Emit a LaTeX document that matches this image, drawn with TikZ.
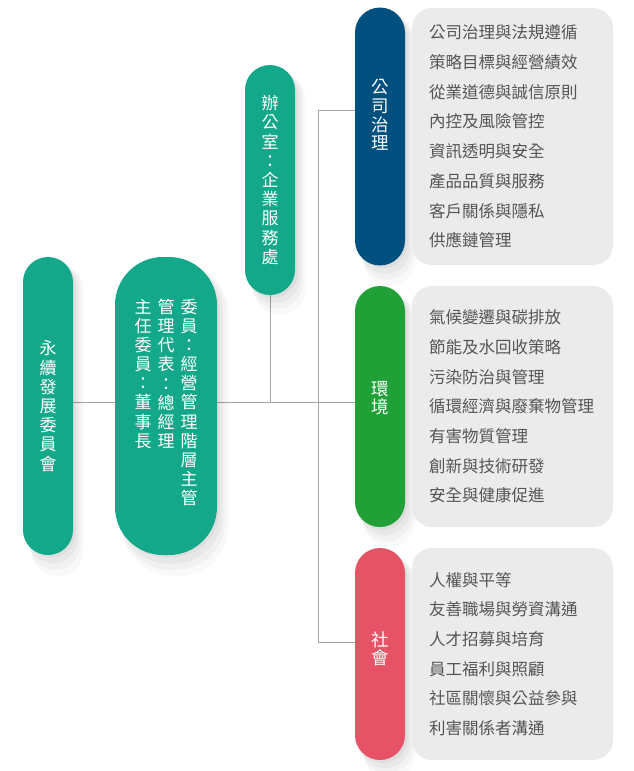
\documentclass[tikz,border=0pt]{standalone}
\usepackage{fontspec}
\newfontfamily\cjk{Noto Sans CJK TC}
\usetikzlibrary{positioning,shadows,backgrounds}
\definecolor{esgteal}{RGB}{18,168,137}
\definecolor{esgblue}{RGB}{0,80,127}
\definecolor{esggreen}{RGB}{33,160,56}
\definecolor{esgred}{RGB}{230,83,102}
\definecolor{listgray}{RGB}{235,235,235}
\definecolor{listtext}{RGB}{85,85,85}
\definecolor{linkgray}{RGB}{165,165,165}

\tikzset{
  softshade/.style={
    general shadow={fill=black,opacity=0.025,shadow xshift=9pt,shadow yshift=-13pt,shadow scale=1.05},
    general shadow={fill=black,opacity=0.03,shadow xshift=7pt,shadow yshift=-10pt,shadow scale=1.03},
    general shadow={fill=black,opacity=0.035,shadow xshift=5pt,shadow yshift=-7pt,shadow scale=1.01},
    general shadow={fill=black,opacity=0.04,shadow xshift=3pt,shadow yshift=-4pt,shadow scale=0.99}},
  pill/.style={rectangle,rounded corners=25pt,minimum width=50pt,inner sep=0pt,
    text=white,align=center,font=\cjk\fontsize{17}{19.2}\selectfont,softshade},
  pilltext/.style={inner sep=0pt,text=white,align=center,font=\cjk\fontsize{17.5}{18.6}\selectfont},
  topicbox/.style={rectangle,rounded corners=20pt,fill=listgray,text=listtext,
    text width=167pt,inner xsep=17pt,inner ysep=0pt,minimum width=201pt,align=left,
    font=\cjk\fontsize{16.5}{29.7}\selectfont},
  link/.style={draw=linkgray,line width=0.8pt}
}

\begin{document}
\begin{tikzpicture}[x=1pt,y=-1pt]
  \useasboundingbox (0,0) rectangle (633,771);

  % committee and members
  \node[pill,fill=esgteal,minimum height=298pt] (sdc) at (48,406)
    {永\\續\\發\\展\\委\\員\\會};
  \node[pill,fill=esgteal,minimum width=102pt,minimum height=298pt,rounded corners=48pt]
    (members) at (166,406) {};
  \node[pilltext,anchor=north,font=\cjk\fontsize{17}{19.1}\selectfont] (colmem) at (189,299)
    {委\\員\\：\\經\\營\\管\\理\\階\\層\\主\\管};
  \node[pilltext,anchor=north,font=\cjk\fontsize{17}{19.1}\selectfont] (colrep) at (166,299)
    {管\\理\\代\\表\\：\\總\\經\\理};
  \node[pilltext,anchor=north,font=\cjk\fontsize{17}{19.1}\selectfont] (colchair) at (143,299)
    {主\\任\\委\\員\\：\\董\\事\\長};
  \node[pill,fill=esgteal,minimum height=230pt] (office) at (270,180)
    {辦\\公\\室\\：\\企\\業\\服\\務\\處};

  % three pillars
  \node[pill,fill=esgblue,minimum height=258pt] (govpill) at (380,136.5) {};
  \node[pilltext] (govtxt) at (380,115) {公\\司\\治\\理};
  \node[pill,fill=esggreen,minimum height=241pt] (envpill) at (380,406.5) {};
  \node[pilltext] (envtxt) at (380,398) {環\\境};
  \node[pill,fill=esgred,minimum height=212pt] (socpill) at (380,654) {};
  \node[pilltext] (soctxt) at (380,649) {社\\會};

  \node[topicbox,minimum height=257pt] (govlist) at (512.5,136.5)
    {公司治理與法規遵循\\策略目標與經營績效\\從業道德與誠信原則\\內控及風險管控\\
     資訊透明與安全\\產品品質與服務\\客戶關係與隱私\\供應鏈管理};
  \node[topicbox,minimum height=241pt] (envlist) at (512.5,406.5)
    {氣候變遷與碳排放\\節能及水回收策略\\污染防治與管理\\循環經濟與廢棄物管理\\
     有害物質管理\\創新與技術研發\\安全與健康促進};
  \node[topicbox,minimum height=212pt] (soclist) at (512.5,654)
    {人權與平等\\友善職場與勞資溝通\\人才招募與培育\\員工福利與照顧\\
     社區關懷與公益參與\\利害關係者溝通};

  % connectors
  \coordinate (hub) at (318,402);
  \coordinate (govjoin) at (318,110);
  \coordinate (socjoin) at (318,642);
  \begin{scope}[on background layer]
    \fill[white] (0,0) rectangle (633,771);
    \draw[link] (sdc.east |- hub) -- (envpill.west |- hub);
    \draw[link] (office.south) -- (office.south |- hub);
    \draw[link] (govpill.west |- govjoin) -- (govjoin) -- (socjoin) -- (socpill.west |- socjoin);
  \end{scope}
\end{tikzpicture}
\end{document}
